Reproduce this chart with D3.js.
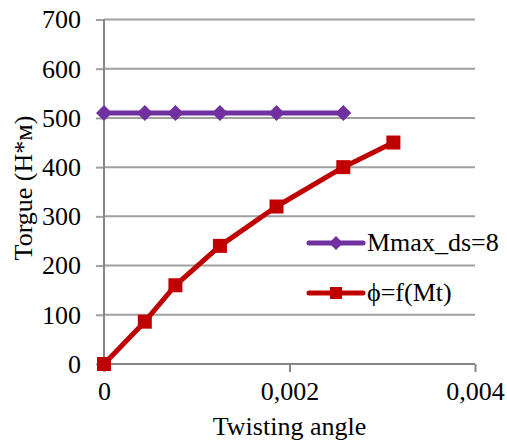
<!DOCTYPE html>
<html>
<head>
<meta charset="utf-8">
<script src="https://cdn.jsdelivr.net/npm/d3@7"></script>
<style>
  html, body { margin: 0; padding: 0; background: #fff; }
  svg { display: block; }
  svg text { font-family: "Liberation Serif", "Times New Roman", "DejaVu Serif", "Noto Serif", serif !important; }
</style>
</head>
<body>
<svg id="chart" width="507" height="444"></svg>
<script>
// ---- data ----
const twistAngle = [0, 0.00044, 0.00077, 0.00125, 0.00186, 0.00258, 0.00312];
const torque     = [0, 86, 160, 240, 320, 400, 450];
const mmaxAngle  = [0, 0.00044, 0.00077, 0.00125, 0.00186, 0.00258];
const mmaxValue  = [510, 510, 510, 510, 510, 510];
const xTicks = [0, 0.002, 0.004];
const yTicks = [0, 100, 200, 300, 400, 500, 600, 700];
const seriesNames = ["Mmax_ds=8", "\u03D5=f(Mt)"];
const xTitle = "Twisting angle";
const yTitle = "Torgue (\u041D*\u043C)";

// ---- layout ----
const svg = d3.select("#chart");
const mLeft = 104, mRight = 475, mTop = 19.5, mBottom = 364;
const x = d3.scaleLinear().domain([0, 0.004]).range([mLeft, mRight]);
const y = d3.scaleLinear().domain([0, 700]).range([mBottom, mTop]);
const fmtX = d => d === 0 ? "0" : d3.format(".3f")(d).replace(".", ",");

// gridlines + y ticks
const yAxis = d3.axisLeft(y).tickValues(yTicks).tickSize(8).tickPadding(15).tickFormat(d3.format("d"));
const gy = svg.append("g").attr("transform", `translate(${mLeft},0)`).call(yAxis);
gy.select(".domain").remove();
gy.selectAll(".tick line").attr("stroke", "#a0a0a0").attr("stroke-width", 2);
gy.selectAll(".tick text").attr("font-size", 26).attr("fill", "#000");
svg.append("g").selectAll("line").data(yTicks.filter(d => d > 0)).join("line")
  .attr("x1", mLeft).attr("x2", mRight)
  .attr("y1", d => y(d)).attr("y2", d => y(d))
  .attr("stroke", "#a0a0a0").attr("stroke-width", 2);

// x axis
const xAxis = d3.axisBottom(x).tickValues(xTicks).tickSize(8).tickPadding(10).tickFormat(fmtX);
const gx = svg.append("g").attr("transform", `translate(0,${mBottom})`).call(xAxis);
gx.select(".domain").attr("stroke", "#868686").attr("stroke-width", 2)
  .attr("d", `M${mLeft},0H${mRight}`);
gx.selectAll(".tick line").attr("stroke", "#868686").attr("stroke-width", 2);
gx.selectAll(".tick text").attr("font-size", 26).attr("fill", "#000");

// y axis line
svg.append("line").attr("x1", mLeft).attr("x2", mLeft).attr("y1", mTop).attr("y2", mBottom)
  .attr("stroke", "#868686").attr("stroke-width", 2);

// titles
svg.append("text").attr("x", (mLeft + mRight) / 2).attr("y", 435)
  .attr("text-anchor", "middle").attr("font-size", 26).text(xTitle);
svg.append("text").attr("transform", `translate(32,188) rotate(-90)`)
  .attr("text-anchor", "middle").attr("font-size", 26).text(yTitle);

// series
const purple = "#7030A0", red = "#C00000";
const line = d3.line().x(d => x(d[0])).y(d => y(d[1]));
const mmaxPts = mmaxAngle.map((a, i) => [a, mmaxValue[i]]);
const torquePts = twistAngle.map((a, i) => [a, torque[i]]);

svg.append("path").datum(mmaxPts).attr("d", line).attr("fill", "none")
  .attr("stroke", purple).attr("stroke-width", 5).attr("stroke-linejoin", "round");
svg.append("g").selectAll("path").data(mmaxPts).join("path")
  .attr("d", "M0,-8L8,0L0,8L-8,0Z")
  .attr("transform", d => `translate(${x(d[0])},${y(d[1])})`)
  .attr("fill", purple);

svg.append("path").datum(torquePts).attr("d", line).attr("fill", "none")
  .attr("stroke", red).attr("stroke-width", 5).attr("stroke-linejoin", "round");
svg.append("g").selectAll("rect").data(torquePts).join("rect")
  .attr("x", d => x(d[0]) - 7).attr("y", d => y(d[1]) - 7)
  .attr("width", 14).attr("height", 14).attr("fill", red);

// legend
const leg = svg.append("g");
const legY = [243, 293];
const colors = [purple, red];
seriesNames.forEach((name, i) => {
  const g = leg.append("g").attr("transform", `translate(0,${legY[i]})`);
  g.append("line").attr("x1", 309).attr("x2", 363).attr("y1", 0).attr("y2", 0)
    .attr("stroke", colors[i]).attr("stroke-width", 5).attr("stroke-linecap", "round");
  if (i === 0) {
    g.append("path").attr("d", "M336,-7L343,0L336,7L329,0Z").attr("fill", purple);
  } else {
    g.append("rect").attr("x", 330).attr("y", -6).attr("width", 12).attr("height", 12).attr("fill", red);
  }
  g.append("text").attr("x", 367).attr("y", 8).attr("font-size", 26).text(name);
});
</script>
</body>
</html>
